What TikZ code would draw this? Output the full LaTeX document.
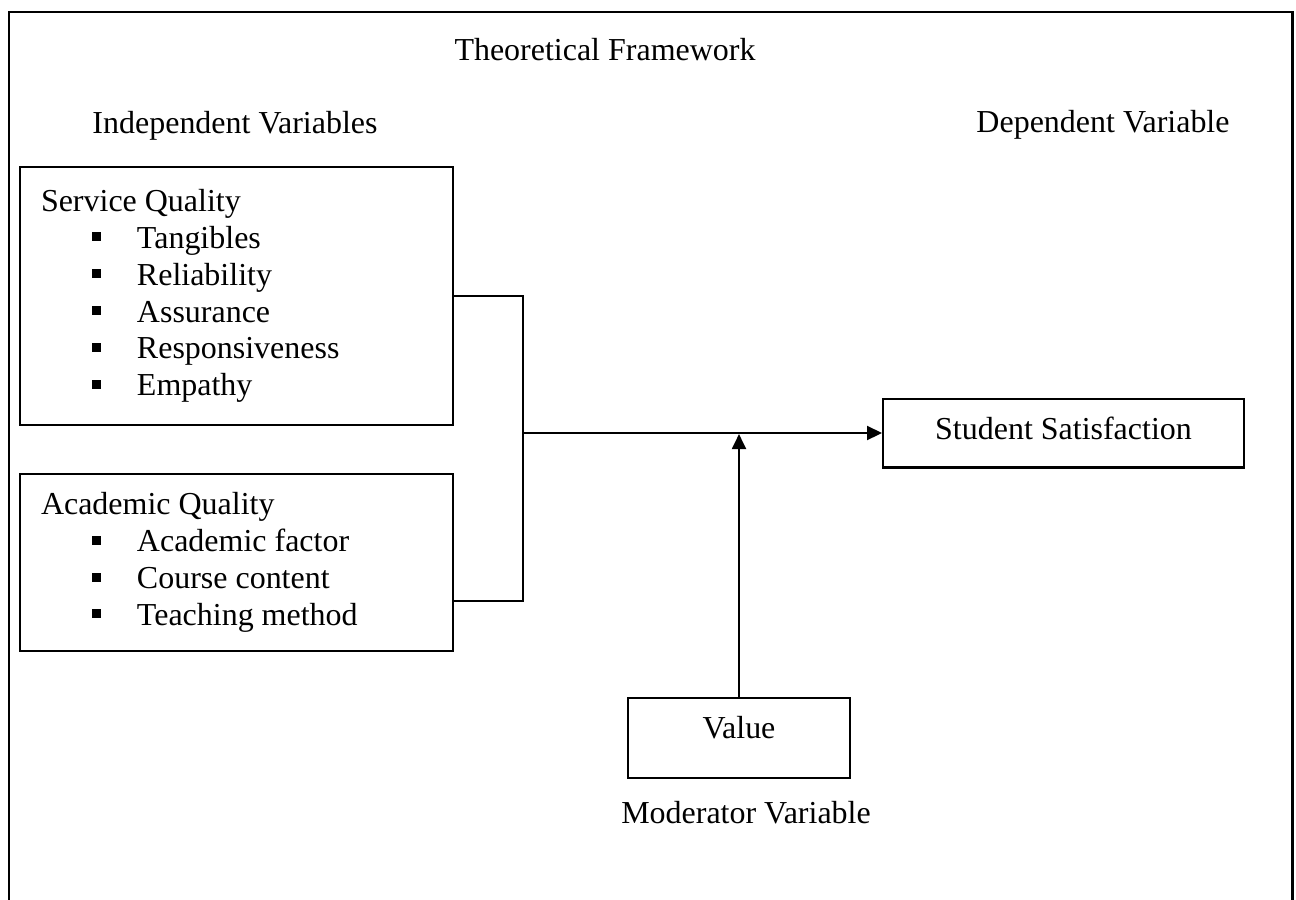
\documentclass[tikz,border=0pt]{standalone}
\usepackage{fontspec}
\setmainfont{Liberation Serif}
\usetikzlibrary{arrows.meta,positioning}

\newcommand{\sqitem}[1]{\hspace*{1.02cm}\rule[0.14cm]{0.18cm}{0.18cm}\hspace*{0.72cm}#1}

\begin{document}
\begin{tikzpicture}[x=0.02cm, y=-0.02cm,
  every node/.style={font=\fontsize{18.2}{21}\selectfont, inner sep=0pt},
  heading/.style={anchor=base},
  box/.style={draw, line width=1.15pt},
  varbox/.style={box, anchor=north west, align=flush left, inner xsep=0.42cm, text width=7.82cm},
  link/.style={line width=1.15pt},
  arr/.style={link, -{Triangle[length=0.3cm, width=0.28cm]}}]
  \useasboundingbox (0,0) rectangle (1296,900);

  % frame, open at the bottom
  \draw[line width=1.7pt] (9,900) -- (9,12) -- (1292,12) -- (1292,900);

  \node[heading] (title) at (605,60) {Theoretical Framework};
  \node[heading] (indep) at (235,133) {Independent Variables};
  \node[heading] (dep) at (1103,132) {Dependent Variable};

  \node[varbox, minimum height=5.16cm] (service) at (19,166)
    {Service Quality\\ \sqitem{Tangibles}\\ \sqitem{Reliability}\\
     \sqitem{Assurance}\\ \sqitem{Responsiveness}\\ \sqitem{Empathy}};
  \node[varbox, minimum height=3.54cm] (academic) at (19,473)
    {Academic Quality\\ \sqitem{Academic factor}\\ \sqitem{Course content}\\
     \sqitem{Teaching method}};

  \node[box, minimum width=7.22cm, minimum height=1.38cm, text depth=0.2cm] (student) at (1063.5,433) {Student Satisfaction};
  \node[box, minimum width=4.44cm, minimum height=1.6cm, text depth=0.44cm] (value) at (739,738) {Value};
  \node[heading] (mod) at (746,823) {Moderator Variable};

  % bracket joining the two boxes
  \coordinate (bend) at (523,601);
  \coordinate (join) at (523,433);
  \draw[link] (service.east) -| (bend) -- (bend -| academic.east);
  \draw[arr] (join) -- (student.west);
  \draw[arr, shorten >=0.6pt] (value.north) -- (value.north |- join);
\end{tikzpicture}
\end{document}
